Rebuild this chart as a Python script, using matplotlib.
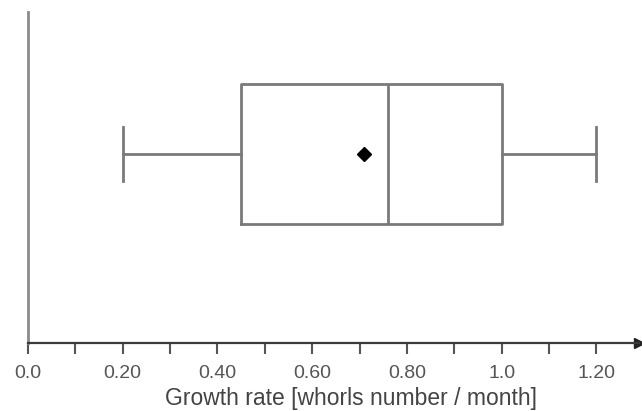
import matplotlib.pyplot as plt
from matplotlib.ticker import MultipleLocator

plt.rcParams['font.family'] = ['Liberation Sans', 'DejaVu Sans']

# growth rate summary (whorls number / month)
whisker_low = 0.20
q1 = 0.45
median = 0.76
q3 = 1.00
whisker_high = 1.20
mean = 0.71

tick_values = [0.0, 0.20, 0.40, 0.60, 0.80, 1.0, 1.20]
tick_labels = ["0.0", "0.20", "0.40", "0.60", "0.80", "1.0", "1.20"]

stats = [dict(whislo=whisker_low, q1=q1, med=median, q3=q3,
              whishi=whisker_high, mean=mean, fliers=[])]

fig = plt.figure(figsize=(6.42, 4.11), dpi=100)
ax = fig.add_axes([28 / 642, 68 / 411, 611 / 642, 331 / 411])

box_col = "#7a7a7a"
ax.bxp(stats, positions=[0.571], widths=0.42, capwidths=0.163, vert=False,
       showmeans=True, showfliers=False,
       boxprops=dict(color=box_col, linewidth=2),
       whiskerprops=dict(color=box_col, linewidth=2),
       capprops=dict(color=box_col, linewidth=2),
       medianprops=dict(color=box_col, linewidth=2),
       meanprops=dict(marker="D", markerfacecolor="black",
                      markeredgecolor="black", markersize=7))

ax.set_xlim(0, 1.29)
ax.set_ylim(0, 1)
ax.set_yticks([])

for side in ("top", "right"):
    ax.spines[side].set_visible(False)
ax.spines["left"].set_color("#8a8a8a")
ax.spines["left"].set_linewidth(2)
ax.spines["bottom"].set_color("#3a3a3a")
ax.spines["bottom"].set_linewidth(1.6)

# arrow head on the x axis
ax.plot(1, 0, ">", color="#222222", markersize=7, transform=ax.transAxes,
        clip_on=False)

ax.set_xticks(tick_values)
ax.set_xticklabels(tick_labels)
ax.xaxis.set_minor_locator(MultipleLocator(0.1))
ax.tick_params(axis="x", which="both", direction="out", length=8, width=1.5,
               color="#555555", labelsize=14, labelcolor="#555555", pad=8)
ax.set_xlabel("Growth rate [whorls number / month]", fontsize=16.5,
              color="#444444", labelpad=3.5)
ax.xaxis.label.set_x(0.529)

fig.savefig("out.png", dpi=100)
